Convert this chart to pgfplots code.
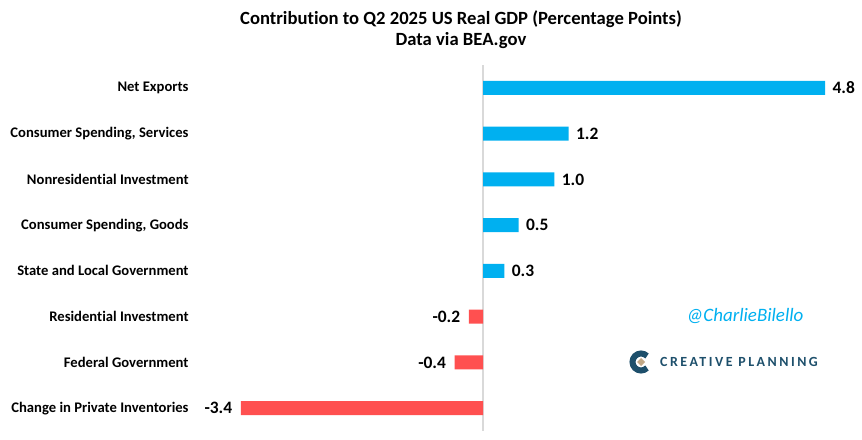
\documentclass[border=0pt]{standalone}
\usepackage{pgfplots}
\pgfplotsset{compat=1.18}
\usepackage{fontspec}
\setmainfont{Carlito}[Ligatures={NoCommon}]
\definecolor{barblue}{HTML}{00B0F0}
\definecolor{barred}{HTML}{FF5050}
\definecolor{cpteal}{HTML}{1D4F6B}
\definecolor{cptan}{HTML}{C2A987}
\begin{document}
\begin{tikzpicture}[x=1bp,y=1bp]
\useasboundingbox[fill=white] (0,0) rectangle (862,440);
% title
\node[font=\fontsize{18.7}{22}\selectfont\bfseries] at (461,421) {Contribution to Q2 2025 US Real GDP (Percentage Points)};
\node[font=\fontsize{18.7}{22}\selectfont\bfseries] at (461,399) {Data via BEA.gov};
\begin{axis}[
  at={(226.5bp,9bp)}, anchor=south west,
  scale only axis, width=627bp, height=366bp,
  xbar, bar width=14bp, bar shift=0pt,
  xmin=-3.6, xmax=5.2, ymin=-0.5, ymax=7.5,
  axis line style={draw=none}, tick style={draw=none},
  xtick=\empty,
  ytick={0,...,7},
  yticklabels={Change in Private Inventories, Federal Government, Residential Investment, State and Local Government, {Consumer Spending, Goods}, Nonresidential Investment, {Consumer Spending, Services}, Net Exports},
  yticklabel style={font=\fontsize{14.7}{16}\selectfont\bfseries, anchor=east, inner sep=0pt, xshift=-33.5bp},
  clip=false,
  point meta=explicit symbolic,
  nodes near coords,
  every node near coord/.append style={font=\fontsize{17.5}{19}\selectfont\bfseries, text=black},
]
\draw[color=gray!30, line width=1.5bp] (axis cs:0,-0.5) -- (axis cs:0,7.5);
\addplot[fill=barblue, draw=none, every node near coord/.append style={anchor=west, xshift=4bp}]
  coordinates {(4.8,7)[4.8] (1.2,6)[1.2] (1.0,5)[1.0] (0.5,4)[0.5] (0.3,3)[0.3]};
\addplot[fill=barred, draw=none, every node near coord/.append style={anchor=east, xshift=-5bp}]
  coordinates {(-0.2,2)[-0.2] (-0.4,1)[-0.4] (-3.4,0)[-3.4]};
\end{axis}
% watermark
\node[font=\fontsize{19}{21}\selectfont\itshape, text=barblue] at (745,124) {@CharlieBilello};
% logo
\draw[cpteal, line width=6bp] (641,78) ++(45:8.5) arc (45:315:8.5);
\fill[cptan] (645,78) -- (641,82) -- (637,78) -- (641,74) -- cycle;
\node[anchor=west, inner sep=0pt, text=cpteal, font=\fontsize{14}{16}\selectfont\bfseries\addfontfeatures{LetterSpace=18}] at (660,78) {CREATIVE PLANNING};
\end{tikzpicture}
\end{document}
